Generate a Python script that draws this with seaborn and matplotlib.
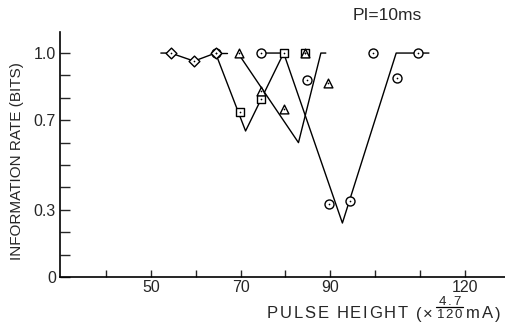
import numpy as np
import pandas as pd
import matplotlib
matplotlib.use("Agg")
import matplotlib.pyplot as plt
from matplotlib.lines import Line2D
from matplotlib.font_manager import findfont, FontProperties
from matplotlib.ft2font import FT2Font
import seaborn as sns

# Fitted V-shaped curves (pulse height, information rate); one list per curve piece
curve_a_x = [52.2, 54.4, 59.6, 64.4, 71.1, 79.6]
curve_a_y = [1.0, 1.0, 0.964, 1.0, 0.652, 1.0]
curve_b1_x = [64.4, 67.0]
curve_b1_y = [1.0, 1.0]
curve_b2_x = [69.4, 82.9, 87.9, 89.0]
curve_b2_y = [1.0, 0.600, 1.0, 1.0]
curve_c_x = [74.6, 79.6, 92.7, 104.7, 112.0]
curve_c_y = [1.0, 1.0, 0.241, 1.0, 1.0]

# Measured points
diamond_x = [54.4, 59.6, 64.4]
diamond_y = [1.0, 0.964, 1.0]
circle_x = [64.4, 74.6, 84.7, 89.8, 94.5, 99.6, 104.8, 109.5]
circle_y = [1.0, 1.0, 0.879, 0.325, 0.338, 1.0, 0.887, 1.0]
square_x = [69.8, 74.6, 79.6, 84.4]
square_y = [0.738, 0.793, 1.0, 1.0]
triangle_x = [69.6, 74.6, 79.6, 84.4, 89.6]
triangle_y = [1.0, 0.830, 0.750, 1.0, 0.867]

x_ticks = [40, 50, 60, 70, 80, 90, 100, 110, 120]
x_labels = ["", "50", "", "70", "", "90", "", "", "120"]
y_ticks = [0, 0.1, 0.2, 0.3, 0.4, 0.5, 0.6, 0.7, 0.8, 0.9, 1.0]
y_labels = ["0", "", "", "0.3", "", "", "", "0.7", "", "", "1.0"]

xlabel_head = "PULSE HEIGHT (×"
xlabel_num = "4.7"
xlabel_den = "120"
xlabel_tail = "mA)"

sns.set_style("ticks")
plt.rcParams["font.family"] = ["Liberation Sans", "DejaVu Sans"]

lines = pd.concat([
    pd.DataFrame({"x": curve_a_x, "y": curve_a_y, "seg": "a"}),
    pd.DataFrame({"x": curve_b1_x, "y": curve_b1_y, "seg": "b1"}),
    pd.DataFrame({"x": curve_b2_x, "y": curve_b2_y, "seg": "b2"}),
    pd.DataFrame({"x": curve_c_x, "y": curve_c_y, "seg": "c"}),
], ignore_index=True)

points = pd.concat([
    pd.DataFrame({"x": diamond_x, "y": diamond_y, "kind": "diamond"}),
    pd.DataFrame({"x": circle_x, "y": circle_y, "kind": "circle"}),
    pd.DataFrame({"x": square_x, "y": square_y, "kind": "square"}),
    pd.DataFrame({"x": triangle_x, "y": triangle_y, "kind": "triangle"}),
], ignore_index=True)

W, H = 506, 324
fig = plt.figure(figsize=(W / 100, H / 100), dpi=100)
ax = fig.add_axes([60 / W, 47 / H, 446 / W, 245 / H])

sns.lineplot(data=lines, x="x", y="y", units="seg", estimator=None, sort=False,
             color="black", linewidth=1.0, ax=ax, zorder=2)

sizes = {"diamond": 30, "circle": 42, "square": 28, "triangle": 40}
marks = {"diamond": "D", "circle": "o", "square": "s", "triangle": "^"}
for kind, sub in points.groupby("kind"):
    sns.scatterplot(data=sub, x="x", y="y", marker=marks[kind], s=sizes[kind],
                    color="white", edgecolor="black", linewidth=1.0, ax=ax, zorder=3)
sns.scatterplot(data=points, x="x", y="y", marker="o", s=1.5, color="black",
                edgecolor="black", linewidth=0, ax=ax, zorder=4)

ax.set_xlim(29.7, 129.2)
ax.set_ylim(0, 1.094)
ax.set_xticks(x_ticks)
ax.set_xticklabels(x_labels)
ax.set_yticks(y_ticks)
ax.set_yticklabels(y_labels)
ax.tick_params(axis="x", direction="in", length=5, width=1.0, labelsize=11.5, pad=2.5)
ax.tick_params(axis="y", direction="in", length=7, width=1.0, labelsize=11.5, pad=3)
sns.despine(ax=ax)
for side in ("left", "bottom"):
    ax.spines[side].set_linewidth(1.2)
    ax.spines[side].set_color("black")
ax.set_xlabel("")

ax.set_ylabel("INFORMATION RATE (BITS)", fontsize=11)
ax.yaxis.set_label_coords(-0.08, 0.473)

# Axis title with letter spacing and a stacked fraction (pixel units)
fs_main = 12
fs_frac = 9.5
track = 1.7
font_path = findfont(FontProperties(family="Liberation Sans"))


def advance(c, fs):
    ft = FT2Font(font_path)
    ft.set_size(fs, 100)
    return ft.load_char(ord(c)).linearHoriAdvance / 65536


def run_width(s, fs):
    return sum(advance(c, fs) for c in s) + track * (len(s) - 1)


def tracked(s, x0, y_px, fs):
    x = x0
    for c in s:
        if c != " ":
            fig.text(x / W, (H - y_px) / H, c, fontsize=fs, ha="left", va="baseline")
        x += advance(c, fs) + track
    return x - track


base_px = 318.5
x = tracked(xlabel_head, 267, base_px, fs_main)
frac_w = max(run_width(xlabel_num, fs_frac), run_width(xlabel_den, fs_frac))
x0 = x + 4
tracked(xlabel_den, x0 + (frac_w - run_width(xlabel_den, fs_frac)) / 2, base_px, fs_frac)
tracked(xlabel_num, x0 + (frac_w - run_width(xlabel_num, fs_frac)) / 2, 304.8, fs_frac)
fig.add_artist(Line2D([(x0 - 1) / W, (x0 + frac_w + 1) / W],
                      [(H - 306.8) / H] * 2, color="black", linewidth=0.9))
tracked(xlabel_tail, x0 + frac_w + 4, base_px, fs_main)

fig.text(387 / W, 1 - 15 / H, "PI=10ms", fontsize=12.5, ha="center", va="center")

fig.savefig("out.png", dpi=100)
